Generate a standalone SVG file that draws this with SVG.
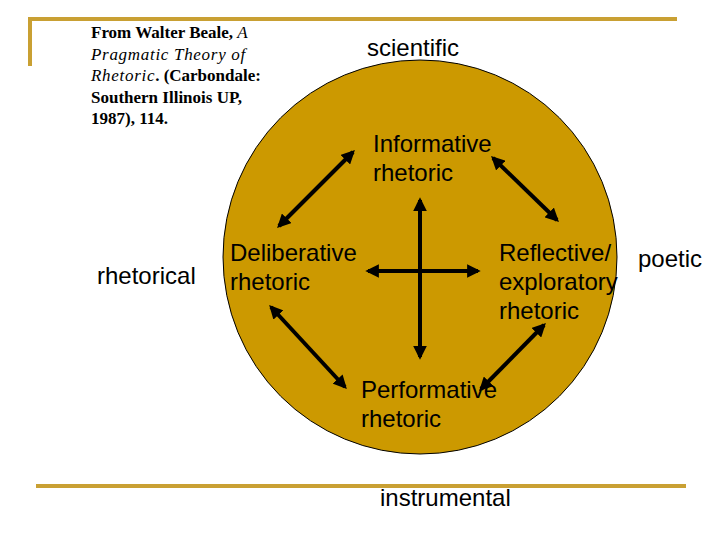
<svg xmlns="http://www.w3.org/2000/svg" width="720" height="540" viewBox="0 0 720 540">
<style>
.lbl{font-family:"Liberation Sans",Arial,sans-serif;font-size:24px;fill:#000}
.cite{font-family:"Liberation Serif","Times New Roman",serif;font-size:17px;font-weight:bold;fill:#000}
.cite .it{font-style:italic;font-weight:normal;letter-spacing:0.7px}
.rule{stroke:#C9A033;stroke-width:4;fill:none}
.arr{stroke:#000;stroke-width:4;fill:none;marker-start:url(#ah);marker-end:url(#ah)}
</style>
<defs>
<marker id="ah" viewBox="0 0 10 10" refX="8" refY="5" markerWidth="3.4" markerHeight="3.4" orient="auto-start-reverse" markerUnits="strokeWidth">
<path d="M0,0 L10,5 L0,10 Z" fill="#000"/>
</marker>
</defs>
<rect width="720" height="540" fill="#fff"/>
<g id="frame">
<path class="rule" d="M30,66 V19 H677"/>
<path class="rule" d="M36,486 H686"/>
</g>
<g id="circle">
<circle cx="420" cy="257" r="197" fill="#CC9900" stroke="#000" stroke-width="1"/>
</g>
<g id="citation">
<text class="cite" x="91" y="38">From Walter Beale, <tspan class="it">A</tspan></text>
<text class="cite" x="91" y="60"><tspan class="it">Pragmatic Theory of</tspan></text>
<text class="cite" x="91" y="81"><tspan class="it">Rhetoric</tspan>. (Carbondale:</text>
<text class="cite" x="91" y="103">Southern Illinois UP,</text>
<text class="cite" x="91" y="124">1987), 114.</text>
</g>
<g id="scientific"><text class="lbl" x="367" y="56">scientific</text></g>
<g id="rhetorical"><text class="lbl" x="97" y="284">rhetorical</text></g>
<g id="poetic"><text class="lbl" x="638" y="267">poetic</text></g>
<g id="instrumental"><text class="lbl" x="380" y="506">instrumental</text></g>
<g id="informative"><text class="lbl" x="373" y="152">Informative</text><text class="lbl" x="373" y="181">rhetoric</text></g>
<g id="deliberative"><text class="lbl" x="230" y="261">Deliberative</text><text class="lbl" x="230" y="290">rhetoric</text></g>
<g id="reflective"><text class="lbl" x="499" y="261">Reflective/</text><text class="lbl" x="499" y="290">exploratory</text><text class="lbl" x="499" y="319">rhetoric</text></g>
<g id="performative"><text class="lbl" x="361" y="398">Performative</text><text class="lbl" x="361" y="427">rhetoric</text></g>
<g id="connectors">
<line class="arr" x1="279" y1="226" x2="353" y2="152"/>
<line class="arr" x1="493" y1="158" x2="557" y2="220"/>
<line class="arr" x1="420" y1="200" x2="420" y2="357"/>
<line class="arr" x1="368" y1="271" x2="478" y2="271"/>
<line class="arr" x1="271" y1="307" x2="345" y2="387"/>
<line class="arr" x1="544" y1="325" x2="481" y2="389"/>
</g>
</svg>
